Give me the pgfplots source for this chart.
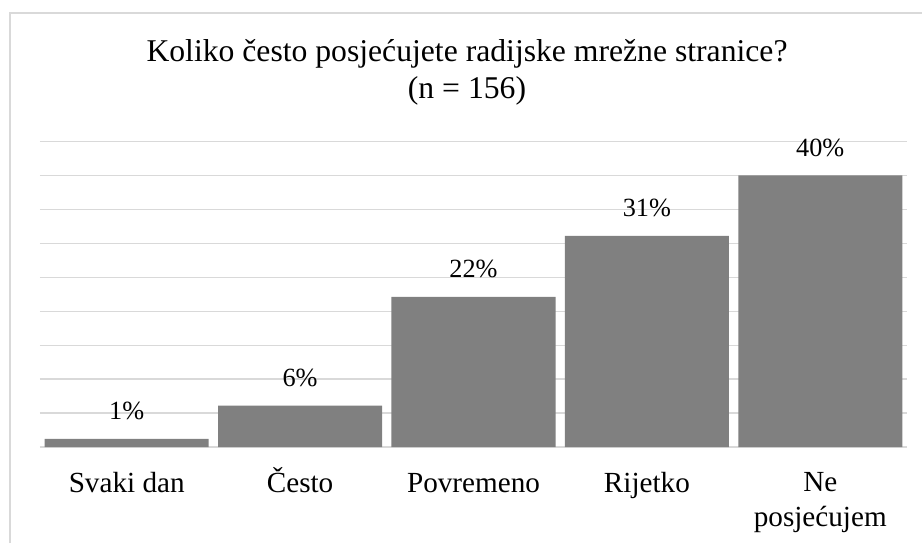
\documentclass[border=0pt]{standalone}
\usepackage{fontspec}
\setmainfont{Liberation Serif}
\usepackage{pgfplots}
\pgfplotsset{compat=1.18}
\definecolor{gridc}{RGB}{217,217,217}
\definecolor{barc}{RGB}{128,128,128}
\begin{document}
\begin{tikzpicture}
\path[use as bounding box] (0,0) rectangle (442.56pt,260.64pt);
\draw[gridc, line width=0.7pt] (4.8pt,0) -- (4.8pt,254.4pt) -- (442.56pt,254.4pt);
\node[anchor=base, inner sep=0pt, font=\fontsize{15.2}{18}\selectfont] at (224.16pt,231.02pt) {Koliko često posjećujete radijske mrežne stranice?};
\node[anchor=base, inner sep=0pt, font=\fontsize{15.2}{18}\selectfont] at (224.16pt,213.6pt) {(n = 156)};
\begin{axis}[
  at={(19.2pt,46.08pt)}, anchor=south west,
  scale only axis, width=416.16pt, height=146.64pt,
  xmin=-0.5, xmax=4.5, ymin=0, ymax=45,
  ytick={0,5,...,45}, yticklabels={},
  ymajorgrids, grid style={gridc, line width=0.6pt},
  axis line style={draw=none},
  major tick length=0pt,
  xtick={0,1,2,3,4},
  xticklabels={{\smash{Svaki dan}},{\smash{Često}},{\smash{Povremeno}},{\smash{Rijetko}},{\smash{Ne}\\posjećujem}},
  x tick label style={font=\fontsize{14}{16.8}\selectfont, align=center, anchor=north, inner sep=0pt, yshift=-21.1pt},
  /pgf/number format/assume math mode=true,
  ybar, bar width=0.946,
  nodes near coords={\pgfmathprintnumber[fixed,precision=0,assume math mode=true]{\pgfplotspointmeta}\%},
  every node near coord/.append style={font=\fontsize{12.6}{15}\selectfont, anchor=south, inner sep=0pt, yshift=8.9pt, text=black},
]
\addplot[fill=barc, draw=none] coordinates {(0,1.2) (1,6.1) (2,22.1) (3,31.1) (4,40.0)};
\end{axis}
\end{tikzpicture}
\end{document}
